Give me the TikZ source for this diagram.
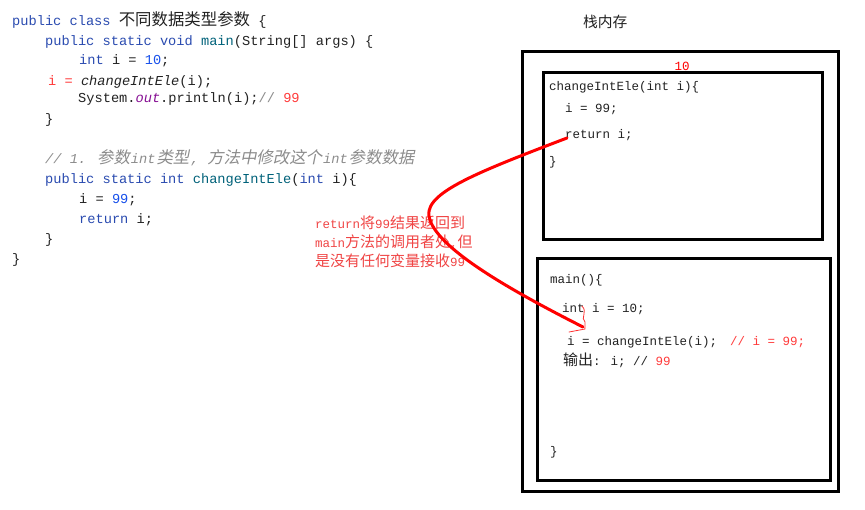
\documentclass[tikz,border=0pt]{standalone}
\usepackage{fontspec}
\setmainfont{Liberation Mono}
\setmonofont{Liberation Mono}
\newfontfamily\cjk[Scale=1.2]{Noto Sans CJK SC}
\newfontfamily\cjki[Scale=1.2,FakeSlant=0.2]{Noto Sans CJK SC}
\definecolor{kw}{HTML}{2A4BB0}
\definecolor{num}{HTML}{1750EB}
\definecolor{tealc}{HTML}{00627A}
\definecolor{cmt}{HTML}{8C8C8C}
\definecolor{purp}{HTML}{871094}
\definecolor{txt}{HTML}{222222}
\definecolor{redc}{HTML}{FF3B3B}
\definecolor{annc}{HTML}{F04545}
\tikzset{
  code/.style={anchor=base west, inner sep=0pt, text=txt, font=\fontsize{13.67}{16}\selectfont},
  rcode/.style={anchor=base west, inner sep=0pt, text=txt, font=\fontsize{12.5}{15}\selectfont},
  ann/.style={anchor=base west, inner sep=0pt, text=annc, font=\fontsize{12.5}{15}\selectfont},
  box/.style={draw=black, line width=3pt, inner sep=0pt, fill=none},
  retline/.style={draw=red, line width=3pt, line cap=round},
  hook/.style={draw=red!80, line width=0.8pt, line cap=round}
}
\begin{document}
\begin{tikzpicture}[x=1pt,y=-1pt]
\useasboundingbox[fill=white] (0,0) rectangle (865,509);
% left code
\node[code] (l1) at (12,25) {{\color{kw}public class} {\cjk 不同数据类型参数} \{};
\node[code] (l2) at (45,45) {{\color{kw}public static void} {\color{tealc}main}(String[] args) \{};
\node[code] (l3) at (79,64) {{\color{kw}int} i = {\color{num}10};};
\node[code] (l4) at (48,85) {{\color{redc}i =} \textit{changeIntEle}(i);};
\node[code] (l5) at (78,102) {System.{\color{purp}\itshape out}.println(i);{\color{cmt}//} {\color{redc}99}};
\node[code] (l6) at (45,123) {\}};
\node[code] (l7) at (45,163) {{\color{cmt}\itshape // 1. {\cjki 参数}\kern1pt int\kern1pt{\cjki 类型}\kern1.5pt, {\cjki 方法中修改这个}\kern1pt int\kern1pt{\cjki 参数数据}}};
\node[code] (l8) at (45,183) {{\color{kw}public static int} {\color{tealc}changeIntEle}({\color{kw}int} i)\{};
\node[code] (l9) at (79,203) {i = {\color{num}99};};
\node[code] (l10) at (79,223) {{\color{kw}return} i;};
\node[code] (l11) at (45,243) {\}};
\node[code] (l12) at (12,263) {\}};
% annotation
\node[ann] (a1) at (315,228) {return{\cjk 将}99{\cjk 结果返回到}};
\node[ann] (a2) at (315,247) {main{\cjk 方法的调用者处},{\cjk 但}};
\node[ann] (a3) at (315,266) {{\cjk 是没有任何变量接收}99};
% stack memory
\node[anchor=base west, inner sep=0pt, text=txt, font=\fontsize{12.3}{15}\selectfont\cjk] (title) at (583,27) {栈内存};
\node[box, minimum width=316pt, minimum height=440pt] (outer) at (680,271) {};
\node[box, minimum width=279pt, minimum height=167pt] (topbox) at (682.5,155.5) {};
\node[box, minimum width=293pt, minimum height=222pt] (mainbox) at (683.5,369) {};
\node[anchor=base, inner sep=0pt, text=red, font=\fontsize{12.5}{15}\selectfont] (ten) at (682,70) {10};
% top box code
\node[rcode] (t1) at (549,90) {changeIntEle(int i)\{};
\node[rcode] (t2) at (565,112) {i = 99;};
\node[rcode] (t3) at (565,138) {return i;};
\node[rcode] (t4) at (549,165) {\}};
% main box code
\node[rcode] (m1) at (550,283) {main()\{};
\node[rcode] (m2) at (562,312) {int i = 10;};
\node[rcode] (m3) at (567,345) {i = changeIntEle(i);};
\node[rcode, text=redc] (m4) at (730,345) {// i = 99;};
\node[rcode] (m5) at (563,365) {{\cjk 输出}: i; // {\color{redc}99}};
\node[rcode] (m6) at (550,455) {\}};
% return curve
\coordinate (rs) at (567,138);
\coordinate (rm) at (430,220);
\coordinate (re) at (583,327);
\draw[retline] (rs) .. controls (470,175) and (420,195) .. (rm)
  .. controls (440,250) and (510,290) .. (re);
\coordinate (h1) at (582,306);
\coordinate (h2) at (585,329);
\coordinate (h3) at (569,332);
\draw[hook] (h1) .. controls (588,312) and (580,318) .. (585,322) -- (h2) -- (h3);
\end{tikzpicture}
\end{document}
